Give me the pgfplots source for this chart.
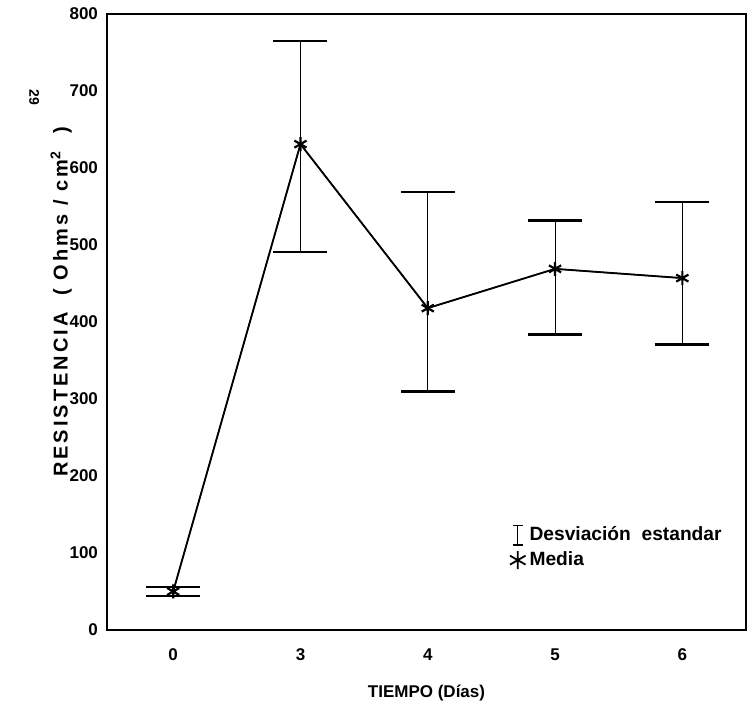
\documentclass[border=0pt]{standalone}
\usepackage{pgfplots}
\pgfplotsset{compat=1.18}
\usepackage{pgfplotstable}
\usetikzlibrary{calc}
\usepackage{fontspec}
\setmainfont{Liberation Sans}

% mean, upper and lower end of the standard deviation bar
\pgfplotstableread{
x y top bot
0 50 56 44
1 631 765 491
2 418 569 310
3 469 532 384
4 457 556 371
}\resist

\begin{document}
\begin{tikzpicture}
\begin{axis}[
 name=ax,
 scale only axis,
 width=319.5pt, height=308pt,
 xmin=-0.52, xmax=4.5,
 ymin=0, ymax=800,
 xtick={0,1,2,3,4}, xticklabels={0,3,4,5,6},
 ytick={0,100,...,800},
 major tick length=0pt,
 axis line style={line width=1pt},
 tick label style={font=\bfseries\fontsize{8.5}{9}\selectfont},
 /pgf/number format/assume math mode=true,
 xticklabel style={yshift=-6pt},
 yticklabel style={xshift=-1pt},
 xlabel={\bfseries TIEMPO (Días)},
 ylabel={\bfseries RESISTENCIA \ ( Ohms / cm\textsuperscript{2} \ )},
 xlabel style={font=\bfseries\fontsize{8.5}{10}\selectfont, yshift=-5pt},
 ylabel style={font=\bfseries\fontsize{10}{12}\selectfont\addfontfeatures{LetterSpace=15},
   yshift=-8pt, xshift=10pt},
 legend style={draw=none, fill=none, at={(0.63,0.175)}, anchor=north west,
   font=\bfseries\fontsize{9.6}{12}\selectfont, row sep=0pt,
   inner sep=0pt},
 legend cell align=left,
]
\addlegendimage{legend image code/.code={
   \draw[line width=0.6pt] (0.12cm,-0.17cm) -- (0.12cm,0.17cm);
   \draw[line width=0.9pt] (0.03cm,-0.17cm) -- (0.21cm,-0.17cm);
   \draw[line width=0.9pt] (0.03cm,0.17cm) -- (0.21cm,0.17cm);}}
\addlegendentry{Desviación\ \ estandar}
\addlegendimage{legend image code/.code={
   \draw[line width=0.9pt] plot[mark=asterisk, mark size=4.5pt] coordinates {(0.12cm,0cm)};}}
\addlegendentry{Media}
% vertical deviation lines
\addplot[black, line width=0.6pt, forget plot, mark=none,
  error bars/.cd, y dir=both, y explicit, error mark=none]
  table[x=x, y=y, y error plus expr=\thisrow{top}-\thisrow{y},
        y error minus expr=\thisrow{y}-\thisrow{bot}] {\resist};
% caps
\addplot[black, only marks, mark=-, mark size=13.5pt,
  mark options={line width=1.3pt}, forget plot]
  table[x=x, y=top] {\resist};
\addplot[black, only marks, mark=-, mark size=13.5pt,
  mark options={line width=1.3pt}, forget plot]
  table[x=x, y=bot] {\resist};
% means
\addplot[black, line width=0.9pt, mark=asterisk, mark size=3.5pt,
  mark options={line width=1.1pt}, forget plot]
  table[x=x, y=y] {\resist};
\coordinate (pg) at (rel axis cs:-0.114,0.865);
\end{axis}
\node[rotate=-90, font=\bfseries\fontsize{7}{8}\selectfont] at (pg) {29};
\pgfresetboundingbox
\path ($(ax.south west)+(-53.5pt,-38pt)$) rectangle ($(ax.north east)+(1pt,7pt)$);
\end{tikzpicture}
\end{document}
